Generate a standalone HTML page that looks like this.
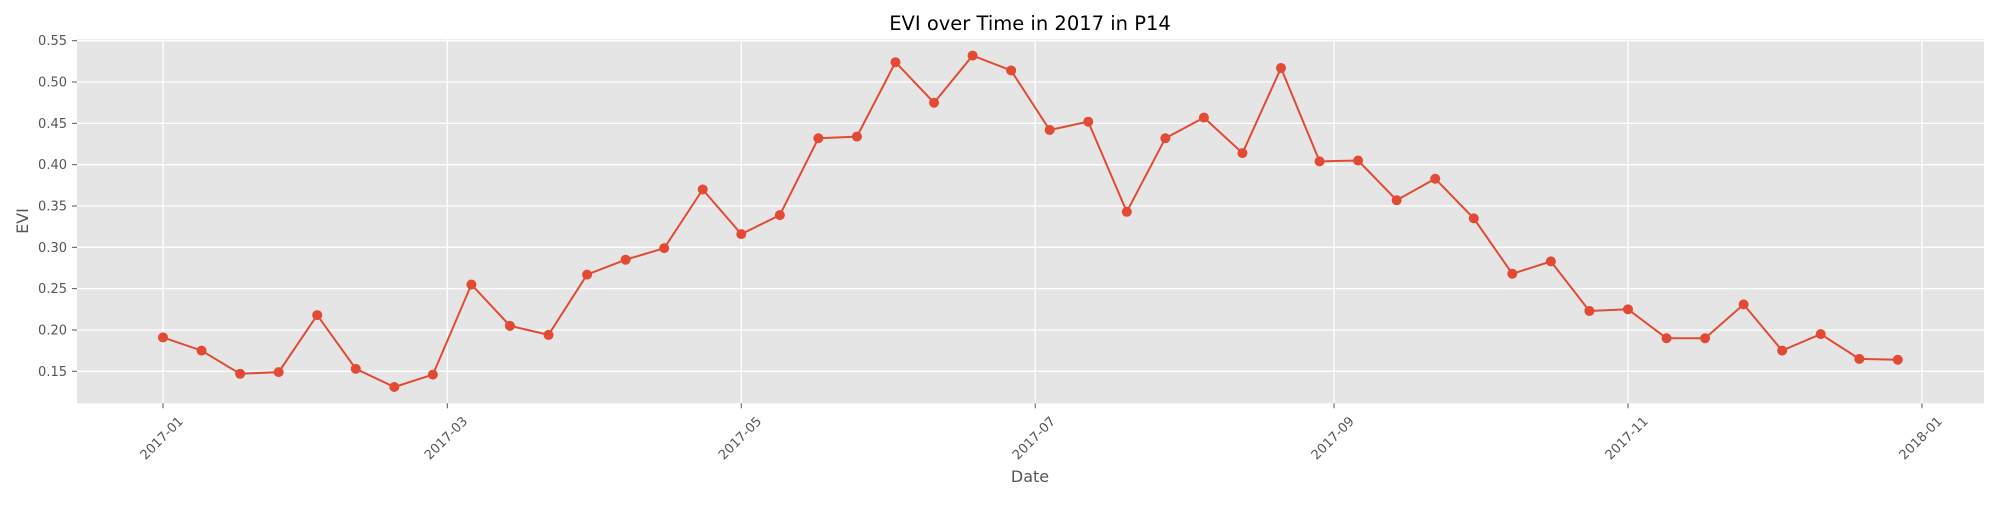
<!DOCTYPE html>
<html><head><meta charset="utf-8"><style>
body{margin:0;background:#fff;}
text{font-family:"DejaVu Sans","Liberation Sans",sans-serif;}
</style></head><body>
<svg id="chart" width="2000" height="500" xmlns="http://www.w3.org/2000/svg">
<text x="1030" y="30" text-anchor="middle" font-size="19.5" fill="#000">EVI over Time in 2017 in P14</text>
<rect x="77" y="39.3" width="1907" height="364" fill="#e5e5e5"/>
<g id="grid"></g><g id="axes"></g><g id="series"></g>
<text x="1030" y="482" text-anchor="middle" font-size="16" fill="#555">Date</text>
<text x="0" y="0" transform="translate(28,221) rotate(-90)" text-anchor="middle" font-size="16" fill="#555">EVI</text>
</svg>
<script>
const dayOffsets = [0,8,16,24,32,40,48,56,64,72,80,88,96,104,112,120,128,136,144,152,160,168,176,184,192,200,208,216,224,232,240,248,256,264,272,280,288,296,304,312,320,328,336,344,352,360];
const eviValues = [0.191,0.175,0.147,0.149,0.218,0.153,0.131,0.146,0.255,0.205,0.194,0.267,0.285,0.299,0.370,0.316,0.339,0.432,0.434,0.524,0.475,0.532,0.514,0.442,0.452,0.343,0.432,0.457,0.414,0.517,0.404,0.405,0.357,0.383,0.335,0.268,0.283,0.223,0.225,0.190,0.190,0.231,0.175,0.195,0.165,0.164];
const xTickDays = [0,59,120,181,243,304,365];
const xTickLabels = ["2017-01","2017-03","2017-05","2017-07","2017-09","2017-11","2018-01"];
const yTicks = [0.15,0.20,0.25,0.30,0.35,0.40,0.45,0.50,0.55];

const NS="http://www.w3.org/2000/svg";
function xs(d){return 163+d*4.819;}
function ys(v){return 371.3-(v-0.15)*(330.6/0.4);}
function mk(tag,attrs,parent){const e=document.createElementNS(NS,tag);for(const k in attrs)e.setAttribute(k,attrs[k]);parent.appendChild(e);return e;}
const grid=document.getElementById('grid'),axes=document.getElementById('axes'),series=document.getElementById('series');
yTicks.forEach(v=>{
  const y=ys(v);
  const g=mk('line',{x1:77,x2:1984,y1:y,y2:y,stroke:'#fff','stroke-width':1.3},grid);
  
  
  mk('line',{x1:72,x2:77,y1:y,y2:y,stroke:'#555','stroke-width':1},axes);
  const t=mk('text',{x:67,y:y+4.5,'text-anchor':'end','font-size':13,fill:'#555'},axes);
  t.textContent=v.toFixed(2);
  
  
});
xTickDays.forEach((d,i)=>{
  const x=xs(d);
  const g=mk('line',{x1:x,x2:x,y1:39.3,y2:403.3,stroke:'#fff','stroke-width':1.3},grid);
  
  
  mk('line',{x1:x,x2:x,y1:403.3,y2:408.3,stroke:'#555','stroke-width':1},axes);
  const t=mk('text',{x:0,y:4.5,transform:`translate(${x-1.5},${438}) rotate(-45)`,'text-anchor':'middle','font-size':13,fill:'#555'},axes);
  t.textContent=xTickLabels[i];
  
  
});
const pts=dayOffsets.map((d,i)=>xs(d).toFixed(1)+','+ys(eviValues[i]).toFixed(1)).join(' ');
const line=mk('polyline',{points:pts,fill:'none',stroke:'#e24a33','stroke-width':2},series);


dayOffsets.forEach((d,i)=>{
  const c=mk('circle',{cx:xs(d),cy:ys(eviValues[i]),r:5,fill:'#e24a33'},series);
  
  
});
</script>
</body></html>
